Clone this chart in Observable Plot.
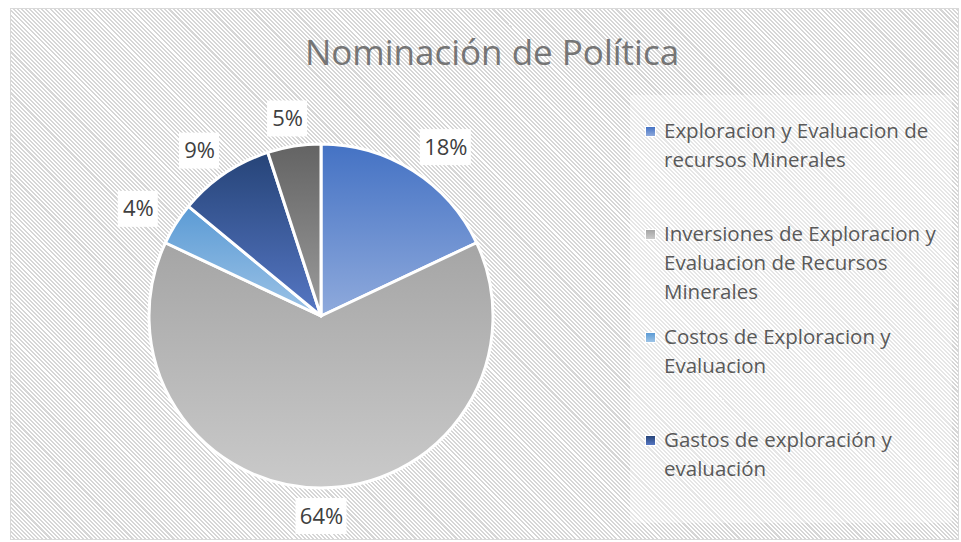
<!DOCTYPE html>
<html><head><meta charset="utf-8">
<script src="https://cdn.jsdelivr.net/npm/d3@7"></script>
<script src="https://cdn.jsdelivr.net/npm/@observablehq/plot@0.6"></script>
<style>
html,body{margin:0;padding:0;background:#fff;}
#wrap{position:relative;width:961px;height:542px;overflow:hidden;font-family:"Open Sans",sans-serif;}
#frame{position:absolute;left:10px;top:8px;width:947px;height:530px;border:1.5px solid #d9d9d9;
  background:repeating-linear-gradient(45deg,#ffffff 0 1.45px,#d6d6d6 1.45px 2.9px);}
#legendbg{position:absolute;left:630px;top:95px;width:322px;height:428px;background:rgba(255,255,255,0.4);}
#title{position:absolute;left:492px;top:34px;transform:translateX(-50%);white-space:nowrap;
  font-size:35px;line-height:35px;font-weight:400;color:#757575;}
#plot{position:absolute;left:0;top:0;}
.leg{position:absolute;left:664px;width:290px;font-size:20.5px;line-height:29px;color:#595959;}
.sw{position:absolute;left:-19px;top:10px;width:9px;height:9px;border:1.5px solid #fff;}
</style></head>
<body><div id="wrap"><div id="frame"></div><div id="legendbg"></div><div id="plot"></div><div id="title"></div></div>
<script>
const title = "Nominación de Política";
const categories = [
  "Exploracion y Evaluacion de recursos Minerales",
  "Inversiones de Exploracion y Evaluacion de Recursos Minerales",
  "Costos de Exploracion y Evaluacion",
  "Gastos de exploración y evaluación",
  "Otros"
];
const values = [18, 64, 4, 9, 5];
const labels = ["18%", "64%", "4%", "9%", "5%"];
const legendCount = 4;

// styles
const topColors = ["#4472c4", "#a5a5a5", "#5b9bd5", "#264478", "#636363"];
const bottomColors = ["#8faadc", "#cacaca", "#9dc3e6", "#5677c4", "#9c9c9c"];

const W = 961, H = 542, CX = 321, CY = 316, R = 172;

document.getElementById("title").textContent = title;

const data = d3.pie().sort(null).value(d => d.value)(
  values.map((v, i) => ({value: v, label: labels[i], category: categories[i], i}))
);

// label positions (data units, radius = 1): anchor just outside the arc, then shift the box outward
const labelData = data.map(d => {
  const a = (d.startAngle + d.endAngle) / 2;
  const s = Math.sin(a), c = Math.cos(a);
  const A = 15 * d.data.label.length + 3, B = 16, g = 12;
  const px = s * (R + g) + s * A, py = c * (R + g) + c * B;
  return {x: px / R, y: py / R, label: d.data.label, w: d.data.label.length * 11 + 18, h: 36};
});

function pieMark(index, scales, vals, dimensions, context) {
  const ns = "http://www.w3.org/2000/svg";
  const g = d3.select(context.document.createElementNS(ns, "g"));
  const defs = g.append("defs");
  data.forEach((d, i) => {
    const lg = defs.append("linearGradient").attr("id", "sg" + i)
      .attr("x1", 0).attr("y1", 0).attr("x2", 0).attr("y2", 1);
    lg.append("stop").attr("offset", "0%").attr("stop-color", topColors[i]);
    lg.append("stop").attr("offset", "100%").attr("stop-color", bottomColors[i]);
  });
  const cx = scales.x(0), cy = scales.y(0), r = scales.x(1) - scales.x(0);
  const arc = d3.arc().innerRadius(0).outerRadius(r);
  g.append("g").attr("transform", `translate(${cx},${cy})`)
    .selectAll("path").data(data).join("path")
    .attr("d", arc)
    .attr("fill", (d, i) => `url(#sg${i})`)
    .attr("stroke", "#fff").attr("stroke-width", 3).attr("stroke-linejoin", "round");
  g.append("g").selectAll("rect").data(labelData).join("rect")
    .attr("x", d => scales.x(d.x) - d.w / 2)
    .attr("y", d => scales.y(d.y) - d.h / 2)
    .attr("width", d => d.w).attr("height", d => d.h)
    .attr("fill", "#fff");
  return g.node();
}

const plot = Plot.plot({
  width: W, height: H,
  marginLeft: CX - R, marginRight: W - CX - R,
  marginTop: CY - R, marginBottom: H - CY - R,
  x: {domain: [-1, 1], axis: null},
  y: {domain: [-1, 1], axis: null},
  style: {background: "transparent", overflow: "visible"},
  marks: [
    pieMark,
    Plot.text(labelData, {x: "x", y: "y", text: "label", fontSize: 22, fill: "#404040", fontFamily: "Open Sans"})
  ]
});
document.getElementById("plot").appendChild(plot);

const wrap = document.getElementById("wrap");
for (let i = 0; i < legendCount; i++) {
  const div = document.createElement("div");
  div.className = "leg";
  div.style.top = (116 + i * 103) + "px";
  const sw = document.createElement("div");
  sw.className = "sw";
  sw.style.background = `linear-gradient(${topColors[i]}, ${bottomColors[i]})`;
  div.appendChild(sw);
  div.appendChild(document.createTextNode(categories[i]));
  wrap.appendChild(div);
}
</script></body></html>
